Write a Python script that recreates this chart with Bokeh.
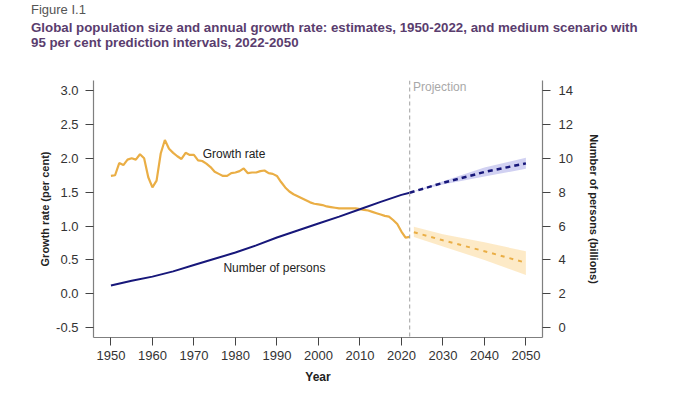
from bokeh.plotting import figure
from bokeh.models import Range1d, LinearAxis, FixedTicker, NumeralTickFormatter, Span, Label, Div
from bokeh.layouts import column
from bokeh.embed import file_html
from bokeh.resources import INLINE

# ---- data ----
years_est = list(range(1950, 2023))
growth_est = [1.74, 1.75, 1.93, 1.90, 1.98, 2.00, 1.98, 2.06, 2.00, 1.72,
              1.57, 1.67, 2.07, 2.27, 2.14, 2.08, 2.03, 1.99, 2.08, 2.05,
              2.05, 1.97, 1.96, 1.92, 1.87, 1.80, 1.77, 1.74, 1.74, 1.78,
              1.79, 1.81, 1.85, 1.78, 1.79, 1.79, 1.81, 1.82, 1.78, 1.77,
              1.74, 1.65, 1.57, 1.51, 1.47, 1.44, 1.41, 1.38, 1.35, 1.33,
              1.32, 1.31, 1.29, 1.28, 1.27, 1.26, 1.26, 1.26, 1.26, 1.26,
              1.25, 1.24, 1.23, 1.21, 1.19, 1.17, 1.15, 1.14, 1.09, 1.03,
              0.92, 0.83, 0.84]

years_pop = [1950, 1955, 1960, 1965, 1970, 1975, 1980, 1985, 1990, 1995,
             2000, 2005, 2010, 2015, 2020, 2022]
pop_est = [2.50, 2.77, 3.02, 3.33, 3.70, 4.07, 4.44, 4.86, 5.33, 5.74,
           6.15, 6.56, 6.99, 7.43, 7.84, 7.97]

years_proj = [2023, 2030, 2040, 2050]
growth_proj = [0.91, 0.79, 0.63, 0.46]
growth_lo = [0.84, 0.70, 0.50, 0.28]
growth_hi = [0.99, 0.88, 0.76, 0.63]

years_pop_proj = [2022, 2030, 2040, 2050]
pop_proj = [7.97, 8.55, 9.19, 9.70]
pop_lo = [7.97, 8.45, 8.92, 9.38]
pop_hi = [7.97, 8.65, 9.45, 10.03]

x_ticks = list(range(1950, 2051, 10))
left_ticks = [-0.5, 0.0, 0.5, 1.0, 1.5, 2.0, 2.5, 3.0]
right_ticks = [0, 2, 4, 6, 8, 10, 12, 14]

fig_label = "Figure I.1"
title_1 = "Global population size and annual growth rate: estimates, 1950-2022, and medium scenario with"
title_2 = "95 per cent prediction intervals, 2022-2050"

ORANGE = "#EAAE45"
NAVY = "#17177A"
FONT = "Liberation Sans"
HEAD_H = 50

head = Div(width=700, height=HEAD_H, margin=(0, 0, 0, 0), text=(
    f'<div style="position:relative;width:700px;height:{HEAD_H}px;font-family:\'Liberation Sans\';">'
    f'<div style="position:absolute;left:31px;top:2px;font-size:13px;line-height:15px;color:#555555;white-space:nowrap;">{fig_label}</div>'
    f'<div style="position:absolute;left:31px;top:21px;font-size:13.3px;line-height:14.5px;font-weight:bold;color:#5A3D6E;white-space:nowrap;">{title_1}<br>{title_2}</div>'
    '</div>'))

p = figure(width=700, height=393 - HEAD_H, output_backend="svg", toolbar_location=None,
           x_range=Range1d(1945.8, 2054.0), y_range=Range1d(-0.643, 3.147),
           min_border_left=93, min_border_right=158, min_border_top=80 - HEAD_H,
           min_border_bottom=56, outline_line_color=None, margin=(0, 0, 0, 0))
p.extra_y_ranges = {"pop": Range1d(-0.572, 14.588)}
p.xgrid.visible = False
p.ygrid.visible = False

# bands
p.varea(x=years_pop_proj, y1=pop_lo, y2=pop_hi, fill_color="#C9C9F0",
        fill_alpha=0.85, y_range_name="pop")
p.varea(x=years_proj, y1=growth_lo, y2=growth_hi, fill_color="#FDE6BD",
        fill_alpha=0.85)

# lines
p.line(years_est, growth_est, line_color=ORANGE, line_width=2.2)
p.line(years_proj, growth_proj, line_color=ORANGE, line_width=2, line_dash="4 5")
p.line(years_pop, pop_est, line_color=NAVY, line_width=2, y_range_name="pop")
p.line(years_pop_proj, pop_proj, line_color=NAVY, line_width=2.5,
       line_dash="5 4", y_range_name="pop")

p.add_layout(Span(location=2022, dimension="height", line_color="#A0A0A0",
                  line_dash="4 3", line_width=1))

def style_axis(ax):
    ax.axis_line_color = "#7F7F7F"
    ax.axis_line_width = 1.2
    ax.major_tick_line_color = "#444444"
    ax.major_tick_out = 8
    ax.major_tick_in = 0
    ax.minor_tick_line_color = None
    ax.major_label_text_font = FONT
    ax.major_label_text_font_size = "13px"
    ax.major_label_text_color = "#333333"
    ax.axis_label_text_font = FONT
    ax.axis_label_text_font_style = "bold"
    ax.axis_label_text_color = "#222222"

xa = p.xaxis[0]
xa.ticker = FixedTicker(ticks=x_ticks)
xa.axis_label = "Year"
xa.axis_label_text_font_size = "12px"
xa.major_label_standoff = 5
xa.axis_label_standoff = 7
style_axis(xa)

ya = p.yaxis[0]
ya.ticker = FixedTicker(ticks=left_ticks)
ya.formatter = NumeralTickFormatter(format="0.0")
ya.axis_label = "Growth rate (per cent)"
ya.axis_label_text_font_size = "11px"
ya.major_label_standoff = 7
ya.axis_label_standoff = 2
style_axis(ya)

ra = LinearAxis(y_range_name="pop", ticker=FixedTicker(ticks=right_ticks),
                axis_label="Number of persons (billions)")
ra.axis_label_text_font_size = "11px"
ra.major_label_standoff = 8
ra.axis_label_standoff = 12
style_axis(ra)
p.add_layout(ra, "right")

# in-plot labels
p.add_layout(Label(x=1972.1, y=2.06, text="Growth rate", text_font=FONT,
                   text_font_size="12px", text_color="#222222",
                   text_baseline="middle"))
p.add_layout(Label(x=1977.1, y=0.375, text="Number of persons", text_font=FONT,
                   text_font_size="12px", text_color="#222222",
                   text_baseline="middle"))
p.add_layout(Label(x=2022.8, y=3.05, text="Projection", text_font=FONT,
                   text_font_size="12px", text_color="#A8A8A8",
                   text_baseline="middle"))

layout = column(head, p, spacing=0, margin=(0, 0, 0, 0))
open("out.html", "w").write(file_html(layout, INLINE))
